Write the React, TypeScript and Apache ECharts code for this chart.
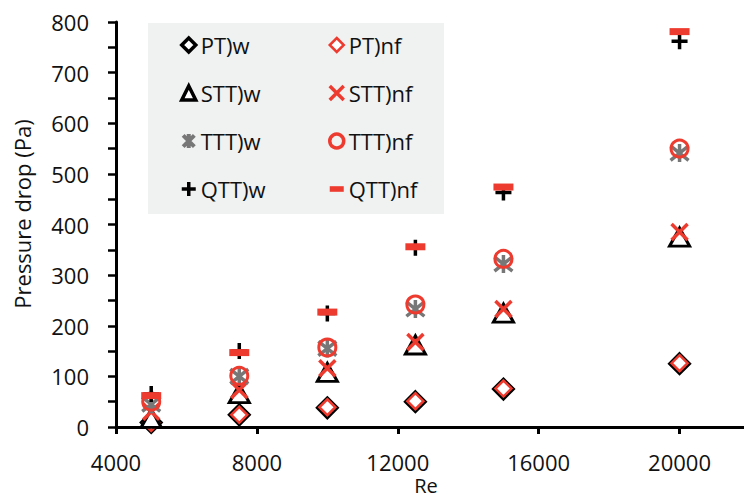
import React, { useEffect, useRef } from "react";
import * as echarts from "echarts";

const reValues = [5000, 7500, 10000, 12500, 15000, 20000];

const ptW = [9, 24, 38, 50, 75, 125];
const ptNf = [8, 24, 39, 51, 76, 126];
const sttW = [17, 66, 108, 162, 225, 375];
const sttNf = [30, 73, 116, 168, 233, 385];
const tttW = [45, 100, 155, 233, 322, 541];
const tttNf = [50, 101, 157, 242, 332, 550];
const qttW = [65, 150, 224, 354, 463, 762];
const qttNf = [62, 147, 227, 356, 474, 781];

const xTicks = { min: 4000, max: 22000, interval: 4000 };
const yTicks = { min: 0, max: 800, interval: 50, labelStep: 100 };

const RED = "#EE3B2F";
const GREY = "#777777";
const BLACK = "#000000";
const FONT = "Open Sans";

const X_PATH = "path://M0,0L10,10M10,0L0,10";
const AST_PATH = "path://M1,1L9,9M9,1L1,9M5,0L5,10";
const PLUS_PATH = "path://M5,0L5,10M0,5L10,5";

const pair = (vals: number[]) => vals.map((v, i) => [reValues[i], v]);

type Def = {
  name: string;
  data: number[];
  symbol: string;
  size: number | number[];
  color: string;
  border: string;
  bw: number;
  legendIcon: string;
  legendBw: number;
};

const defs: Def[] = [
  { name: "PT)w", data: ptW, symbol: "diamond", size: 20, color: "#ffffff", border: BLACK, bw: 3, legendIcon: "diamond", legendBw: 3.5 },
  { name: "PT)nf", data: ptNf, symbol: "diamond", size: 16, color: "#ffffff", border: RED, bw: 2.5, legendIcon: "diamond", legendBw: 2.5 },
  { name: "STT)w", data: sttW, symbol: "triangle", size: [20, 18], color: "#ffffff", border: BLACK, bw: 3, legendIcon: "triangle", legendBw: 3.5 },
  { name: "STT)nf", data: sttNf, symbol: X_PATH, size: 16, color: RED, border: RED, bw: 3.5, legendIcon: X_PATH, legendBw: 3.5 },
  { name: "TTT)w", data: tttW, symbol: AST_PATH, size: 18, color: GREY, border: GREY, bw: 3.5, legendIcon: AST_PATH, legendBw: 4 },
  { name: "TTT)nf", data: tttNf, symbol: "circle", size: 17, color: "rgba(0,0,0,0)", border: RED, bw: 3, legendIcon: "circle", legendBw: 3.5 },
  { name: "QTT)w", data: qttW, symbol: PLUS_PATH, size: 16, color: BLACK, border: BLACK, bw: 3.5, legendIcon: PLUS_PATH, legendBw: 3.5 },
  { name: "QTT)nf", data: qttNf, symbol: "rect", size: [20, 7], color: RED, border: RED, bw: 0, legendIcon: "path://M0,0L10,0L10,4L0,4Z", legendBw: 0 },
];

export default function App() {
  const ref = useRef<HTMLDivElement>(null);

  useEffect(() => {
    if (!ref.current) return;
    const chart = echarts.init(ref.current, null, { renderer: "svg" });

    const legendCommon = {
      orient: "vertical" as const,
      itemWidth: 14,
      itemHeight: 14,
      itemGap: 22,
      padding: 0,
      selectedMode: false,
      textStyle: { fontFamily: FONT, fontSize: 22, color: "#111", lineHeight: 26 },
    };

    const legendItem = (d: Def) => ({
      name: d.name,
      icon: d.legendIcon,
      itemStyle: { color: d.color, borderColor: d.border, borderWidth: d.legendBw },
    });

    chart.setOption({
      animation: false,
      grid: { left: 116, right: 2, top: 22, bottom: 68, outerBoundsMode: "none" },
      xAxis: {
        type: "value",
        min: xTicks.min,
        max: xTicks.max,
        interval: xTicks.interval,
        splitLine: { show: false },
        axisLine: { lineStyle: { color: BLACK, width: 3 } },
        axisTick: { show: true, length: 7, lineStyle: { color: BLACK, width: 3 } },
        axisLabel: {
          showMaxLabel: false,
          margin: 23,
          fontFamily: FONT,
          fontSize: 22,
          lineHeight: 24,
          color: "#111",
          formatter: (v: number) => String(v),
        },
      },
      yAxis: {
        type: "value",
        min: yTicks.min,
        max: yTicks.max,
        interval: yTicks.interval,
        splitLine: { show: false },
        axisLine: { show: true, lineStyle: { color: BLACK, width: 3 } },
        axisTick: { show: true, length: 8, lineStyle: { color: BLACK, width: 2.5 } },
        axisLabel: {
          margin: 27,
          fontFamily: FONT,
          fontSize: 22,
          color: "#111",
          formatter: (v: number) => (v % yTicks.labelStep === 0 ? String(v) : ""),
        },
      },
      legend: [
        {
          ...legendCommon,
          left: 180,
          top: 32,
          data: defs.filter((_, i) => i % 2 === 0).map(legendItem),
        },
        {
          ...legendCommon,
          left: 328,
          top: 32,
          data: defs.filter((_, i) => i % 2 === 1).map(legendItem),
        },
      ],
      graphic: [
        {
          type: "rect",
          z: 0,
          shape: { x: 148, y: 23, width: 296, height: 191 },
          style: { fill: "#F0F1F1" },
          silent: true,
        },
        {
          type: "text",
          x: 22,
          y: 214,
          rotation: Math.PI / 2,
          style: {
            text: "Pressure drop (Pa)",
            fontFamily: FONT,
            fontSize: 22,
            fill: "#111",
            align: "center",
            verticalAlign: "middle",
          },
        },
        {
          type: "text",
          x: 426,
          y: 485,
          style: {
            text: "Re",
            fontFamily: FONT,
            fontSize: 20,
            lineHeight: 20,
            fill: "#111",
            align: "center",
            verticalAlign: "middle",
          },
        },
      ],
      series: defs.map((d) => ({
        name: d.name,
        type: "scatter",
        data: pair(d.data),
        symbol: d.symbol,
        symbolSize: d.size,
        itemStyle: { color: d.color, borderColor: d.border, borderWidth: d.bw, opacity: 1 },
        emphasis: { disabled: true },
        z: 3,
      })),
    });

    return () => chart.dispose();
  }, []);

  return (
    <div style={{ position: "absolute", left: 0, top: 0, width: 744, height: 495, overflow: "hidden", background: "#fff" }}>
      <div ref={ref} style={{ width: 752, height: 495 }} />
    </div>
  );
}
